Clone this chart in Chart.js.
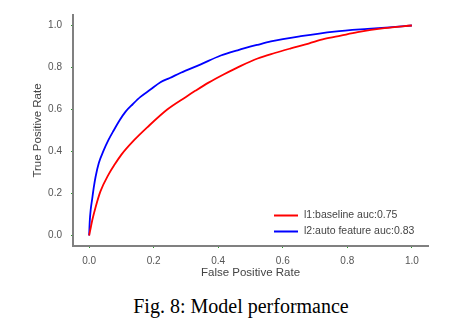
<!DOCTYPE html>
<html>
<head>
<meta charset="utf-8">
<script src="https://cdn.jsdelivr.net/npm/chart.js@4.4.1/dist/chart.umd.min.js"></script>
<style>
  html, body { margin: 0; padding: 0; background: #fff; }
  #wrap { position: relative; width: 462px; height: 285px; }
  #caption { width: 462px; height: 41px; text-align: center; font-family: "Liberation Serif", "Times New Roman", serif; font-size: 20px; line-height: 20px; color: #000; padding-top: 11px; padding-left: 20px; box-sizing: border-box; }
</style>
</head>
<body>
<div id="wrap"><canvas id="c" width="462" height="285"></canvas></div>
<div id="caption">Fig. 8: Model performance</div>
<script>
const tickValues = [0.0, 0.2, 0.4, 0.6, 0.8, 1.0];
const seriesLabels = ['l1:baseline auc:0.75', 'l2:auto feature auc:0.83'];
const fprBaseline = [0, 0.004, 0.01, 0.02, 0.035, 0.06, 0.08, 0.1, 0.14, 0.18, 0.242, 0.3, 0.33, 0.37, 0.418, 0.47, 0.522, 0.575, 0.625, 0.68, 0.729, 0.78, 0.832, 0.915, 1.0];
const tprBaseline = [0, 0.03, 0.075, 0.135, 0.21, 0.29, 0.34, 0.385, 0.455, 0.515, 0.6, 0.66, 0.69, 0.728, 0.768, 0.808, 0.843, 0.869, 0.891, 0.914, 0.936, 0.952, 0.968, 0.987, 1.0];
const fprAuto = [0, 0.002, 0.005, 0.009, 0.015, 0.02, 0.03, 0.045, 0.06, 0.076, 0.095, 0.113, 0.135, 0.159, 0.19, 0.221, 0.25, 0.284, 0.346, 0.408, 0.46, 0.522, 0.563, 0.656, 0.76, 0.863, 0.93, 1.0];
const tprAuto = [0, 0.07, 0.125, 0.17, 0.235, 0.28, 0.345, 0.405, 0.455, 0.5, 0.55, 0.59, 0.625, 0.66, 0.695, 0.73, 0.75, 0.775, 0.815, 0.857, 0.882, 0.908, 0.924, 0.949, 0.971, 0.984, 0.991, 1.0];

const toPts = (xs, ys) => xs.map((x, i) => ({x: x, y: ys[i]}));

const insideLegend = {
  id: 'insideLegend',
  afterDraw(chart) {
    const ctx = chart.ctx;
    const ds = chart.data.datasets;
    const x0 = 274, x1 = 298, tx = 304;
    const ys = [215.5, 231.5];
    ctx.save();
    ctx.font = '10.5px "Liberation Sans", Arial, sans-serif';
    ctx.textBaseline = 'middle';
    ctx.textAlign = 'left';
    ds.forEach((d, i) => {
      ctx.strokeStyle = d.borderColor;
      ctx.lineWidth = 2;
      ctx.beginPath();
      ctx.moveTo(x0, ys[i]);
      ctx.lineTo(x1, ys[i]);
      ctx.stroke();
      ctx.fillStyle = '#444';
      ctx.fillText(d.label, tx, ys[i]);
    });
    ctx.restore();
  }
};

const tickOpts = {
  color: '#555',
  font: { family: '"Liberation Sans", Arial, sans-serif', size: 10 },
  autoSkip: false,
  maxRotation: 0,
  callback: v => Number(v).toFixed(1)
};

new Chart(document.getElementById('c'), {
  type: 'scatter',
  data: {
    datasets: [
      { label: seriesLabels[0], data: toPts(fprBaseline, tprBaseline), borderColor: '#ff0000', backgroundColor: '#ff0000', showLine: true, pointRadius: 0, borderWidth: 1.8, cubicInterpolationMode: 'monotone' },
      { label: seriesLabels[1], data: toPts(fprAuto, tprAuto), borderColor: '#0000ff', backgroundColor: '#0000ff', showLine: true, pointRadius: 0, borderWidth: 1.8, cubicInterpolationMode: 'monotone' }
    ]
  },
  options: {
    responsive: false,
    animation: false,
    layout: { padding: { left: 0, right: 34, top: 15, bottom: 0 } },
    plugins: { legend: { display: false }, tooltip: { enabled: false } },
    scales: {
      x: {
        type: 'linear', min: -0.05, max: 1.05,
        afterBuildTicks: s => { s.ticks = tickValues.map(v => ({ value: v })); },
        afterFit: s => { s.height = 39; },
        ticks: Object.assign({}, tickOpts, { padding: 7 }),
        grid: { drawOnChartArea: false, drawTicks: true, tickLength: 2, tickColor: '#2a9d2a', color: 'rgba(0,0,0,0)' },
        border: { display: true, color: '#808080', width: 2 },
        title: { display: true, text: 'False Positive Rate', color: '#444', font: { family: '"Liberation Sans", Arial, sans-serif', size: 11.5 }, padding: { top: 0, bottom: 5 } }
      },
      y: {
        type: 'linear', min: -0.05, max: 1.05,
        afterBuildTicks: s => { s.ticks = tickValues.map(v => ({ value: v })); },
        afterFit: s => { s.width = 73; },
        ticks: Object.assign({}, tickOpts, { padding: 9 }),
        grid: { drawOnChartArea: false, drawTicks: true, tickLength: 2, tickColor: '#2a9d2a', color: 'rgba(0,0,0,0)' },
        border: { display: true, color: '#808080', width: 2 },
        title: { display: true, text: 'True Positive Rate', color: '#444', font: { family: '"Liberation Sans", Arial, sans-serif', size: 11.5 }, padding: { top: 31, bottom: 0 } }
      }
    }
  },
  plugins: [insideLegend]
});
</script>
</body>
</html>
